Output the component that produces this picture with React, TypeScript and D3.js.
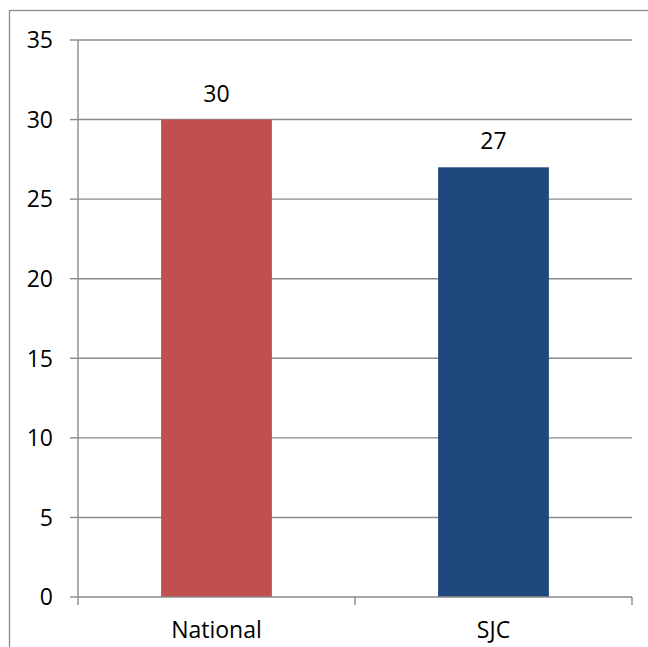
import React from "react";
import * as d3 from "d3";

const categories = ["National", "SJC"];
const values = [30, 27];
const barColors = ["#C0504D", "#1F497D"];
const yTicks = [0, 5, 10, 15, 20, 25, 30, 35];

export default function App() {
  const W = 648, H = 647;
  const left = 78, right = 632, top = 40, bottom = 597;
  const x = d3.scaleBand<string>().domain(categories).range([left, right]).padding(0);
  const y = d3.scaleLinear().domain([0, 35]).range([bottom, top]);
  const grid = "#8a8a8a";
  const font = "'Open Sans', 'Noto Sans', sans-serif";
  const bw = x.bandwidth() * 0.4;
  return (
    <svg width={W} height={H} style={{ position: "absolute", left: 0, top: 0, background: "#fff" }}>
      <rect x={9.5} y={10.5} width={800} height={800} fill="#fff" stroke={grid} strokeWidth={1.3} />
      {yTicks.map((t) => (
        <g key={t}>
          {t > 0 && <line x1={left} x2={right} y1={y(t)} y2={y(t)} stroke={grid} strokeWidth={1.4} />}
          <line x1={left - 8} x2={left} y1={y(t)} y2={y(t)} stroke={grid} strokeWidth={1.4} />
          <text x={53} y={y(t)} dy="0.36em" textAnchor="end" fontFamily={font} fontSize={23} fill="#000">{t}</text>
        </g>
      ))}
      {categories.map((c, i) => {
        const cx = (x(c) as number) + x.bandwidth() / 2;
        return (
          <g key={c}>
            <rect x={cx - bw / 2} y={y(values[i])} width={bw} height={bottom - y(values[i])} fill={barColors[i]} />
            <text x={cx} y={y(values[i]) - 18} textAnchor="middle" fontFamily={font} fontSize={23} fill="#000">{values[i]}</text>
            <text x={cx} y={638} textAnchor="middle" fontFamily={font} fontSize={23} fill="#000">{c}</text>
          </g>
        );
      })}
      <line x1={left} x2={left} y1={top} y2={bottom} stroke={grid} strokeWidth={1.4} />
      <line x1={left} x2={right} y1={bottom} y2={bottom} stroke={grid} strokeWidth={1.4} />
      {[left, left + x.bandwidth(), right].map((tx, i) => (
        <line key={i} x1={tx} x2={tx} y1={bottom} y2={bottom + 8} stroke={grid} strokeWidth={1.4} />
      ))}
    </svg>
  );
}
